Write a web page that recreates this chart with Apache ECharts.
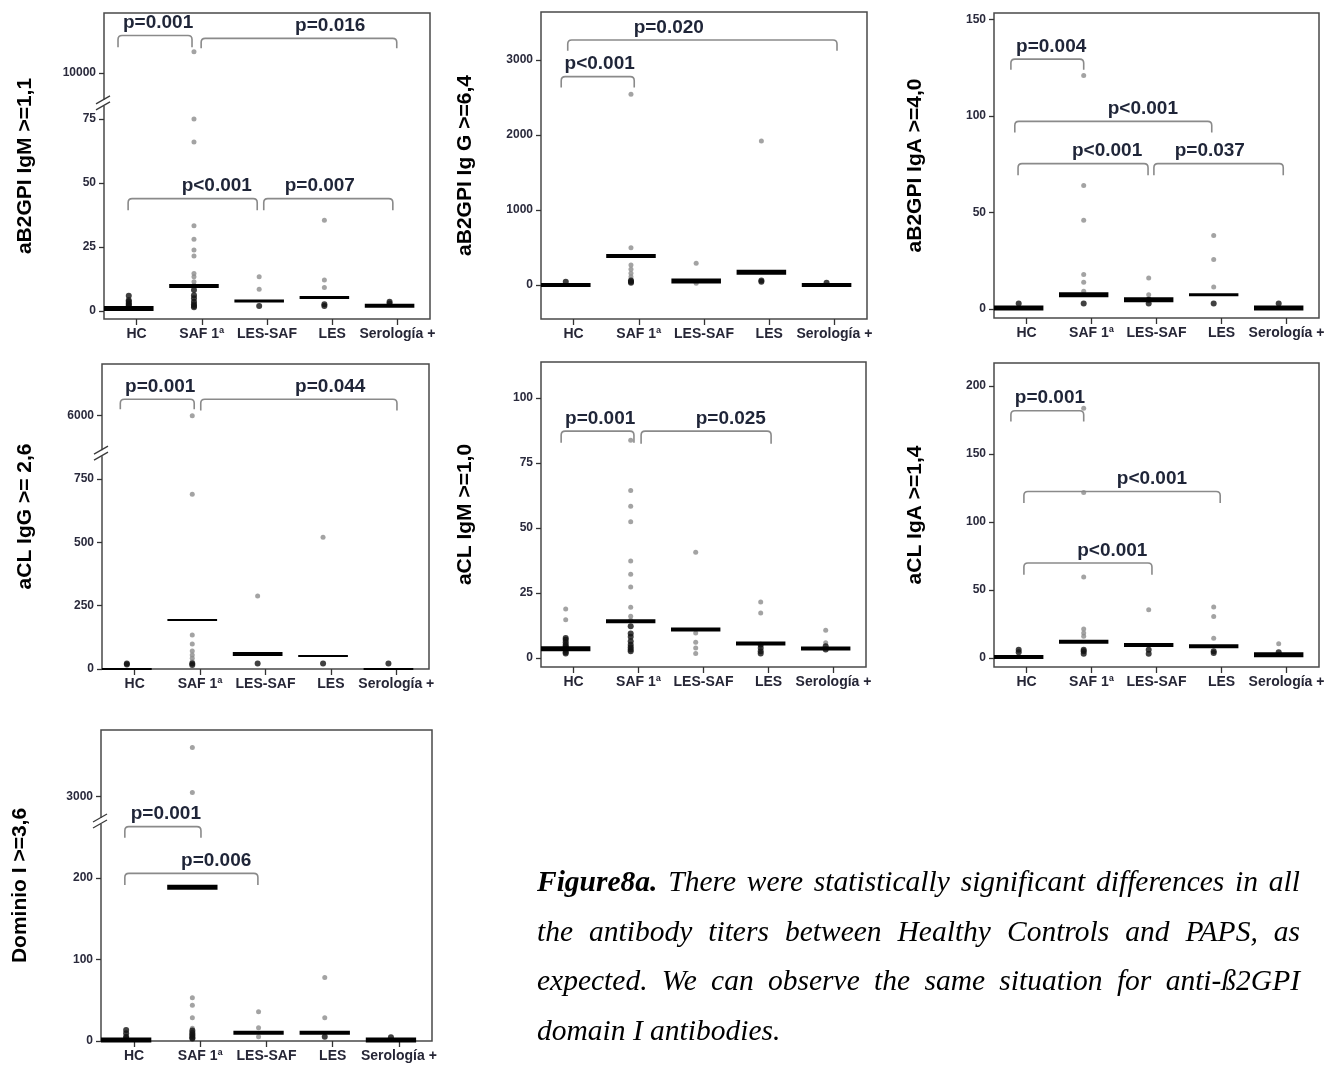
<!DOCTYPE html>
<html>
<head>
<meta charset="utf-8">
<title>Figure 8a</title>
<script src="https://cdn.jsdelivr.net/npm/echarts@6/dist/echarts.min.js"></script>
<style>
  html, body { margin: 0; padding: 0; background: #fff; }
  .page { position: relative; width: 1336px; height: 1065px; overflow: hidden; }
  #chart { position: absolute; left: 0; top: 0; width: 1336px; height: 1065px; }
  .caption {
    position: absolute; left: 537px; top: 857px; width: 763px;
    font-family: 'Liberation Serif', 'Times New Roman', serif;
    font-style: italic; font-size: 29.5px; line-height: 49.5px; color: #000;
  }
  .caption div { text-align: justify; text-align-last: justify; }
  .caption div.last { text-align-last: left; }
</style>
</head>
<body>
<div class="page">
  <div id="chart"></div>
  <div class="caption">
    <div><b>Figure8a.</b> There were statistically significant differences in all</div>
    <div>the antibody titers between Healthy Controls and PAPS, as</div>
    <div>expected. We can observe the same situation for anti-ß2GPI</div>
    <div class="last">domain I antibodies.</div>
  </div>
</div>
<script>
const groups = ['HC', 'SAF 1ª', 'LES-SAF', 'LES', 'Serología +']

// aB2GPI IgM
const b2IgmLight = [[], [10830, 75, 66, 33.3, 28, 23.8, 21.5, 14.7, 13.4, 11.4, 10.1], [13.4, 8.5], [35.5, 12.1, 9.2], []]
const b2IgmDark = [[6, 4.2, 3.6, 3, 2.5, 2], [8.2, 6.2, 5, 3.6, 2.7, 2, 1.5], [2], [2.7, 2], [3.6, 3]]
const b2IgmMedian = [1.0, 9.75, 3.9, 5.3, 2.1]
const b2IgmTicks = [0, 25, 50, 75, 10000]
const b2IgmP = ['p=0.001', 'p=0.016', 'p<0.001', 'p=0.007']

// aB2GPI IgG
const b2IggLight = [[], [2542, 498, 267, 209, 156, 111], [289, 22], [1920], []]
const b2IggDark = [[44], [60, 44, 31], [], [60, 44], [31]]
const b2IggMedian = [0, 387, 53, 169, 0]
const b2IggTicks = [0, 1000, 2000, 3000]
const b2IggP = ['p<0.001', 'p=0.020']

// aB2GPI IgA
const b2IgaLight = [[], [121, 64, 46, 17.8, 13.8, 9.2], [16, 7.4], [38, 25.6, 11.4], []]
const b2IgaDark = [[2.8], [2.8], [4.8, 2.8], [2.8], [2.8]]
const b2IgaMedian = [0.5, 7.4, 4.8, 7.4, 0.5]
const b2IgaTicks = [0, 50, 100, 150]
const b2IgaP = ['p=0.004', 'p<0.001', 'p<0.001', 'p=0.037']

// aCL IgG
const clIggLight = [[], [6000, 690, 134, 99, 71, 55, 42, 29], [288], [520], []]
const clIggDark = [[22, 18], [22, 16], [22], [22], [22]]
const clIggMedian = [0, 193, 59, 51, 0]
const clIggTicks = [0, 250, 500, 750, 6000]
const clIggP = ['p=0.001', 'p=0.044']

// aCL IgM
const clIgmLight = [[18.8, 14.7], [83.7, 64.4, 58.3, 52.4, 37.3, 32.2, 27.3, 19.5, 16, 14.5], [40.6, 9.6, 6, 3.8, 1.7], [21.5, 17.3], [10.6, 5.8]]
const clIgmDark = [[7.7, 7, 6, 5.1, 4.5, 3.8, 2.9, 2.2, 1.7], [12.2, 9.4, 8.1, 6.4, 5.1, 4.1, 3.2, 2.6], [], [5.1, 3.8, 2.6, 1.7], [4.5, 3.2]]
const clIgmMedian = [3.5, 14.1, 10.9, 5.5, 3.6]
const clIgmTicks = [0, 25, 50, 75, 100]
const clIgmP = ['p=0.001', 'p=0.025']

// aCL IgA
const clIgaLight = [[], [183.8, 121.8, 59.6, 21.3, 18.4, 16], [35.5], [37.5, 30.6, 14.5], [10.5]]
const clIgaDark = [[6.1, 4.2], [6.1, 4.9, 3.2], [6.1, 3.2], [4.9, 3.7], [4.2]]
const clIgaMedian = [0.7, 12, 9.6, 8.6, 2.5]
const clIgaTicks = [0, 50, 100, 150, 200]
const clIgaP = ['p=0.001', 'p<0.001', 'p<0.001']

// Dominio I
const domLight = [[], [3600, 3050, 53, 44, 28.6, 15.5], [36, 16.4, 5.3], [78, 28.6], []]
const domDark = [[13.5, 9.4, 5.3, 3.3], [13, 10, 8, 6, 4, 3], [], [5.3], [4.5]]
const domMedian = [1.2, 188.5, 10.2, 10.2, 1.2]
const domTicks = [0, 100, 200, 3000]
const domP = ['p=0.001', 'p=0.006']

const SHIFT = -0.12 // the dots sit a bit left of the tick marks
const FONT = 'Liberation Sans, Arial, sans-serif'

// layout of every panel; brackets = [x1, x2, top, legEnd, textX] in axis units
const panels = [
  { name: 'aB2GPI IgM >=1,1', left: 104, top: 13, width: 326, height: 306, min: -3.1, max: 116.4, nameGap: 68,
    light: b2IgmLight, dark: b2IgmDark, median: b2IgmMedian, ticks: b2IgmTicks, pvals: b2IgmP,
    brk: { lower: 80, from: 10000, to: 93, slope: 0.01, mark: 81.3 }, barW: [5, 4, 3, 3, 4],
    brackets: [[-0.285, 0.85, 107.6, 103, 0.33], [0.99, 3.99, 106.5, 102.6, 2.97], [-0.13, 1.85, 43.9, 39.4, 1.23], [1.95, 3.93, 43.9, 39.4, 2.81]] },
  { name: 'aB2GPI Ig G >=6,4', left: 541, top: 12, width: 326, height: 307, min: -453, max: 3640, nameGap: 65,
    light: b2IggLight, dark: b2IggDark, median: b2IggMedian, ticks: b2IggTicks, pvals: b2IggP,
    brk: null, barW: [4, 4, 5, 5, 4],
    brackets: [[-0.19, 0.93, 2778, 2635, 0.40], [-0.09, 4.04, 3267, 3124, 1.46]] },
  { name: 'aB2GPI IgA >=4,0', left: 994, top: 13, width: 325, height: 305, min: -4.7, max: 153.4, nameGap: 68,
    light: b2IgaLight, dark: b2IgaDark, median: b2IgaMedian, ticks: b2IgaTicks, pvals: b2IgaP,
    brk: null, barW: [5, 5, 5, 3, 5],
    brackets: [[-0.24, 0.88, 129.5, 124, 0.38], [-0.18, 2.85, 97.2, 91.5, 1.79], [-0.13, 1.87, 75.3, 69.3, 1.24], [1.96, 3.95, 75.3, 69.3, 2.82]] },
  { name: 'aCL IgG >= 2,6', left: 102, top: 364, width: 327, height: 305, min: 0, max: 1204, nameGap: 66,
    light: clIggLight, dark: clIggDark, median: clIggMedian, ticks: clIggTicks, pvals: clIggP,
    brk: { lower: 800, from: 6000, to: 1000, slope: 0.1, mark: 852 }, barW: [2, 2, 4, 2, 2],
    brackets: [[-0.22, 0.91, 1065, 1025, 0.39], [1.01, 4.01, 1065, 1020, 2.99]] },
  { name: 'aCL IgM >=1,0', left: 541, top: 362, width: 325, height: 305, min: -3.5, max: 113.8, nameGap: 65,
    light: clIgmLight, dark: clIgmDark, median: clIgmMedian, ticks: clIgmTicks, pvals: clIgmP,
    brk: null, barW: [5, 4, 4, 4, 4],
    brackets: [[-0.19, 0.93, 87.2, 82.7, 0.41], [1.04, 3.04, 87.2, 82.4, 2.42]] },
  { name: 'aCL IgA >=1,4', left: 994, top: 363, width: 325, height: 304, min: -6.6, max: 217, nameGap: 68,
    light: clIgaLight, dark: clIgaDark, median: clIgaMedian, ticks: clIgaTicks, pvals: clIgaP,
    brk: null, barW: [4, 4, 4, 4, 5],
    brackets: [[-0.24, 0.88, 181.9, 174, 0.36], [-0.04, 2.98, 122.5, 114, 1.93], [-0.04, 1.93, 69.9, 61.3, 1.32]] },
  { name: 'Dominio I >=3,6', left: 101, top: 730, width: 331, height: 311, min: 0, max: 381.6, nameGap: 70,
    light: domLight, dark: domDark, median: domMedian, ticks: domTicks, pvals: domP,
    brk: { lower: 250, from: 3000, to: 300, slope: 0.1, mark: 270 }, barW: [5, 5, 4, 4, 5],
    brackets: [[-0.14, 1.01, 263, 249.5, 0.48], [-0.14, 1.87, 205.7, 191.4, 1.24]] }
]

// values above the axis break are squeezed into the top segment
function makeTransform(brk) {
  return v => (brk && v > brk.lower) ? brk.to + (v - brk.from) * brk.slope : v
}

function toPoints(lists, tf) {
  const out = []
  lists.forEach((vals, i) => vals.forEach(v => out.push([i + SHIFT, tf(v)])))
  return out
}

function renderMedian(params, api) {
  const c = api.value(0)
  const w = api.value(2)
  const p1 = api.coord([Math.max(-0.5, c + SHIFT - 0.38), api.value(1)])
  const p2 = api.coord([Math.min(4.5, c + SHIFT + 0.38), api.value(1)])
  return {
    type: 'rect',
    shape: { x: p1[0], y: p1[1] - w / 2, width: p2[0] - p1[0], height: w },
    style: { fill: '#000' }
  }
}

function bracketRenderer(pvals) {
  return function (params, api) {
    const a = api.coord([api.value(0), api.value(2)])
    const b = api.coord([api.value(1), api.value(3)])
    const t = api.coord([api.value(4), api.value(2)])
    const r = 4
    const path = `M${a[0]},${b[1]} L${a[0]},${a[1] + r} Q${a[0]},${a[1]} ${a[0] + r},${a[1]} ` +
      `L${b[0] - r},${a[1]} Q${b[0]},${a[1]} ${b[0]},${a[1] + r} L${b[0]},${b[1]}`
    return {
      type: 'group',
      children: [
        { type: 'path', shape: { pathData: path }, style: { stroke: '#8a8a8a', lineWidth: 1.6, fill: null } },
        {
          type: 'text', x: t[0], y: a[1] - 12.5,
          style: { text: pvals[params.dataIndex], fill: '#1f2538', font: 'bold 19px ' + FONT, align: 'center', verticalAlign: 'middle' }
        }
      ]
    }
  }
}

function renderBreak(params, api) {
  const p = api.coord([api.value(0), api.value(1)])
  const line = { stroke: '#3a3a3a', lineWidth: 1.3 }
  return {
    type: 'group',
    children: [
      { type: 'rect', shape: { x: p[0] - 3, y: p[1] - 3, width: 6, height: 6 }, style: { fill: '#fff' } },
      { type: 'line', shape: { x1: p[0] - 8, y1: p[1] + 1, x2: p[0] + 6, y2: p[1] - 7 }, style: line },
      { type: 'line', shape: { x1: p[0] - 8, y1: p[1] + 7, x2: p[0] + 6, y2: p[1] - 1 }, style: line }
    ]
  }
}

function initChart() {
  const chart = echarts.init(document.getElementById('chart'), null, { renderer: 'canvas' })
  const grid = []
  const xAxis = []
  const yAxis = []
  const series = []

  panels.forEach((pn, k) => {
    const tf = makeTransform(pn.brk)
    const tickVals = pn.ticks.map(tf)

    grid.push({ left: pn.left, top: pn.top, width: pn.width, height: pn.height, show: true, borderColor: '#4a4a4a', borderWidth: 1.5 })

    xAxis.push({
      type: 'value', gridIndex: k, min: -0.5, max: 4.5,
      axisLine: { show: false, onZero: false },
      splitLine: { show: false },
      axisTick: { show: true, customValues: [0, 1, 2, 3, 4], length: 6, lineStyle: { color: '#333', width: 1.3 } },
      axisLabel: {
        customValues: [0, 1, 2, 3, 4], margin: 8,
        formatter: v => groups[Math.round(v)],
        color: '#262636', fontWeight: 'bold', fontSize: 14, fontFamily: FONT
      }
    })

    yAxis.push({
      type: 'value', gridIndex: k, min: pn.min, max: pn.max,
      name: pn.name, nameLocation: 'middle', nameGap: pn.nameGap,
      nameTextStyle: { color: '#000', fontWeight: 'bold', fontSize: 21, fontFamily: FONT },
      axisLine: { show: false, onZero: false },
      splitLine: { show: false },
      axisTick: { show: true, customValues: tickVals, length: 5, lineStyle: { color: '#333', width: 1.3 } },
      axisLabel: {
        customValues: tickVals, margin: 8,
        formatter: v => {
          const i = tickVals.findIndex(t => Math.abs(t - v) < 1e-6)
          return i >= 0 ? String(pn.ticks[i]) : ''
        },
        color: '#2a2a3c', fontWeight: 'bold', fontSize: 12, fontFamily: FONT
      }
    })

    series.push({
      type: 'scatter', xAxisIndex: k, yAxisIndex: k, symbol: 'circle', symbolSize: 5,
      itemStyle: { color: '#8c8c8c' }, data: toPoints(pn.light, tf), z: 3
    })
    series.push({
      type: 'scatter', xAxisIndex: k, yAxisIndex: k, symbol: 'circle', symbolSize: 6,
      itemStyle: { color: '#111' }, data: toPoints(pn.dark, tf), z: 4
    })
    series.push({
      type: 'custom', xAxisIndex: k, yAxisIndex: k, renderItem: renderMedian, z: 5,
      data: pn.median.map((m, i) => [i, tf(m), pn.barW[i]])
    })
    series.push({
      type: 'custom', xAxisIndex: k, yAxisIndex: k, renderItem: bracketRenderer(pn.pvals), z: 6,
      clip: false, data: pn.brackets
    })
    if (pn.brk) {
      series.push({
        type: 'custom', xAxisIndex: k, yAxisIndex: k, renderItem: renderBreak, z: 7,
        clip: false, data: [[-0.5, pn.brk.mark]]
      })
    }
  })

  chart.setOption({
    animation: false,
    backgroundColor: '#fff',
    textStyle: { fontFamily: FONT },
    grid, xAxis, yAxis, series
  })
}

initChart()
</script>
</body>
</html>
